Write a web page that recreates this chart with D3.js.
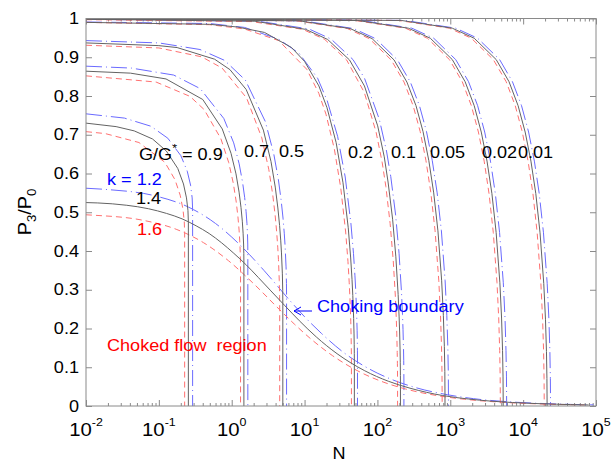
<!DOCTYPE html>
<html><head><meta charset="utf-8">
<script src="https://cdn.jsdelivr.net/npm/d3@7"></script>
<style>
body{margin:0;background:#fff}
svg{display:block}
text{font-family:"Liberation Sans",Arial,Helvetica,sans-serif}
</style>
</head><body>
<svg id="c" width="615" height="463"></svg>
<script>
// ---------------- data ----------------
const xTickValues = [1e-2, 1e-1, 1e0, 1e1, 1e2, 1e3, 1e4, 1e5];
const xTickExponents = ["-2", "-1", "0", "1", "2", "3", "4", "5"];
const yTickValues = [0, 0.1, 0.2, 0.3, 0.4, 0.5, 0.6, 0.7, 0.8, 0.9, 1];
const yTickLabels = ["0", "0.1", "0.2", "0.3", "0.4", "0.5", "0.6", "0.7", "0.8", "0.9", "1"];
const kValues = ["1.2", "1.4", "1.6"];
const gValues = ["0.9", "0.7", "0.5", "0.2", "0.1", "0.05", "0.02", "0.01"];

// k = 1.2 (blue)
const k12_g09 = [[0.01,0.754],[0.0337,0.743],[0.0778,0.722],[0.1328,0.691],[0.2005,0.646],[0.2452,0.606],[0.2724,0.570],[0.2865,0.537],[0.2907,0.508],[0.2907,0]];
const k12_g07 = [[0.01,0.877],[0.0422,0.872],[0.160,0.854],[0.370,0.819],[0.779,0.742],[1.0645,0.679],[1.2657,0.625],[1.4074,0.578],[1.5065,0.538],[1.5742,0.502],[1.6189,0.471],[1.6461,0.443],[1.6602,0.418],[1.6644,0.395],[1.6644,0]];
const k12_g05 = [[0.01,0.943],[0.1,0.937],[0.367,0.920],[0.797,0.892],[1.540,0.841],[2.893,0.734],[3.774,0.651],[4.367,0.585],[4.775,0.530],[5.061,0.485],[5.262,0.446],[5.404,0.413],[5.571,0.359],[5.642,0.316],[5.661,0.282],[5.661,0]];
const k12_g02 = [[0.01,0.991],[0.5,0.987],[1.5,0.977],[4.48,0.946],[8.43,0.910],[15.09,0.846],[20.44,0.788],[28.41,0.696],[36.12,0.591],[43.21,0.472],[46.95,0.393],[49.13,0.336],[50.48,0.294],[51.96,0.234],[52.65,0.194],[52.99,0.165],[53.16,0.144],[53.25,0.113],[53.25,0]];
const k12_g01 = [[0.01,0.998],[2.31,0.993],[11.5,0.973],[23.1,0.947],[46.2,0.894],[66.45,0.846],[106.1,0.740],[133.2,0.658],[152.5,0.592],[177.7,0.493],[198.1,0.394],[213.8,0.295],[220.9,0.236],[224.6,0.197],[228.1,0.147],[229.6,0.117],[230.6,0.083],[230.9,0.056],[230.9,0]];
const k12_g005 = [[0.01,0.999],[9.44,0.994],[47.2,0.974],[94.4,0.948],[188.7,0.893],[283.1,0.836],[377.5,0.775],[471.9,0.708],[566.2,0.633],[660.6,0.550],[755.0,0.452],[849.3,0.323],[896.5,0.233],[924.8,0.154],[939.0,0.089],[943.7,0.028],[943.7,0]];
const k12_g002 = [[0.01,1.0],[59.3,0.995],[297,0.975],[593,0.949],[1187,0.894],[1780,0.837],[2374,0.775],[2967,0.707],[3560,0.632],[4154,0.548],[4747,0.448],[5341,0.318],[5637,0.227],[5815,0.143],[5904,0.075],[5934,0.011],[5934,0]];
const k12_g001 = [[0.01,1.0],[238,0.995],[1188,0.975],[2376,0.949],[4752,0.894],[7129,0.837],[9505,0.775],[11881,0.707],[14257,0.632],[16633,0.548],[19010,0.447],[21386,0.316],[22574,0.224],[23287,0.141],[23643,0.071],[23762,0.006],[23762,0]];
const k12_boundary = [[0.01,0.562],[0.0183,0.559],[0.0902,0.542],[0.2570,0.513],[0.5999,0.471],[1.294,0.416],[2.768,0.350],[6.298,0.272],[10.04,0.230],[17.13,0.187],[32.81,0.141],[78.37,0.095],[164.4,0.067],[327.1,0.048],[918.8,0.029],[2075,0.019],[8324,0.0095],[16997,0.0067],[33323,0.0048],[52072,0.0038],[92582,0.0029]];

// k = 1.4 (black)
const k14_g09 = [[0.01,0.730],[0.0259,0.721],[0.0459,0.710],[0.082,0.689],[0.1268,0.658],[0.1818,0.613],[0.2177,0.573],[0.2395,0.537],[0.2508,0.505],[0.2541,0.475],[0.2541,0]];
const k14_g07 = [[0.01,0.864],[0.0407,0.859],[0.1255,0.844],[0.4005,0.791],[0.7416,0.715],[0.9788,0.652],[1.145,0.599],[1.2615,0.552],[1.3423,0.512],[1.3973,0.477],[1.4333,0.446],[1.4551,0.418],[1.4663,0.393],[1.4696,0.370],[1.4696,0]];
const k14_g05 = [[0.01,0.937],[0.1,0.930],[0.178,0.925],[0.582,0.895],[0.946,0.868],[1.577,0.817],[2.72,0.712],[3.46,0.631],[3.96,0.565],[4.30,0.511],[4.54,0.466],[4.704,0.428],[4.82,0.395],[4.957,0.341],[5.014,0.298],[5.029,0.264],[5.029,0]];
const k14_g02 = [[0.01,0.990],[0.5,0.985],[1.2,0.978],[2.82,0.964],[6.64,0.925],[10.02,0.889],[15.72,0.826],[20.30,0.770],[27.11,0.680],[33.70,0.576],[39.75,0.460],[42.93,0.382],[44.78,0.327],[45.92,0.285],[47.16,0.226],[47.74,0.186],[48.02,0.158],[48.16,0.136],[48.23,0.106],[48.23,0]];
const k14_g01 = [[0.01,0.998],[2.07,0.993],[10.35,0.972],[20.7,0.946],[41.4,0.893],[66.3,0.826],[100.8,0.723],[124.1,0.643],[140.0,0.578],[161.6,0.482],[179.0,0.385],[192.4,0.288],[198.5,0.230],[201.7,0.191],[204.7,0.142],[205.9,0.113],[206.8,0.079],[207.0,0.053],[207.0,0]];
const k14_g005 = [[0.01,0.999],[8.46,0.994],[42.3,0.974],[84.6,0.948],[169.2,0.893],[253.8,0.836],[338.4,0.775],[423,0.708],[507.6,0.633],[592.2,0.550],[676.8,0.452],[761.4,0.323],[803.7,0.233],[829.1,0.154],[841.8,0.089],[846,0.026],[846,0]];
const k14_g002 = [[0.01,1.0],[53.2,0.995],[266,0.975],[532,0.949],[1065,0.894],[1597,0.837],[2130,0.775],[2662,0.707],[3194,0.632],[3727,0.548],[4259,0.448],[4792,0.318],[5058,0.227],[5218,0.143],[5297,0.075],[5324,0.011],[5324,0]];
const k14_g001 = [[0.01,1.0],[213,0.995],[1066,0.975],[2132,0.949],[4264,0.894],[6396,0.837],[8528,0.775],[10660,0.707],[12791,0.632],[14923,0.548],[17055,0.447],[19187,0.316],[20253,0.224],[20893,0.141],[21212,0.071],[21319,0.005],[21319,0]];
const k14_boundary = [[0.01,0.525],[0.0145,0.524],[0.0363,0.518],[0.0723,0.509],[0.1273,0.497],[0.2081,0.483],[0.3246,0.465],[0.4908,0.445],[0.728,0.421],[1.069,0.394],[1.566,0.365],[2.309,0.332],[3.453,0.297],[5.299,0.260],[8.483,0.220],[14.53,0.178],[27.93,0.135],[66.92,0.091],[140.7,0.064],[280.0,0.046],[787.1,0.027],[1778,0.018],[7134,0.009],[14568,0.0064],[28562,0.0046],[44633,0.0037],[79355,0.0027]];

// k = 1.6 (red)
const k16_g09 = [[0.01,0.708],[0.0184,0.703],[0.0533,0.680],[0.1208,0.629],[0.1665,0.584],[0.1962,0.544],[0.2141,0.508],[0.2233,0.476],[0.2259,0.447],[0.2259,0]];
const k16_g07 = [[0.01,0.852],[0.0916,0.836],[0.2677,0.799],[0.4185,0.765],[0.7093,0.690],[0.9107,0.628],[1.0511,0.575],[1.1489,0.529],[1.2165,0.489],[1.2622,0.454],[1.2918,0.423],[1.3097,0.395],[1.3189,0.370],[1.3216,0.348],[1.3216,0]];
const k16_g05 = [[0.01,0.931],[0.1,0.924],[0.389,0.901],[0.739,0.872],[1.600,0.795],[2.587,0.692],[3.225,0.611],[3.652,0.546],[3.942,0.493],[4.144,0.448],[4.284,0.410],[4.382,0.378],[4.495,0.324],[4.543,0.282],[4.555,0.248],[4.555,0]];
const k16_g02 = [[0.01,0.990],[0.5,0.984],[1.5,0.973],[4.42,0.943],[10.71,0.869],[15.68,0.807],[19.68,0.753],[25.63,0.663],[31.37,0.563],[36.64,0.449],[39.41,0.373],[41.01,0.318],[41.99,0.277],[43.06,0.219],[43.55,0.179],[43.79,0.151],[43.90,0.130],[43.96,0.099],[43.96,0]];
const k16_g01 = [[0.01,0.997],[1.89,0.992],[9.45,0.972],[18.9,0.946],[37.8,0.893],[66.1,0.809],[95.8,0.707],[116.1,0.629],[130.6,0.566],[149.4,0.471],[164.7,0.376],[176.4,0.282],[181.6,0.224],[184.4,0.186],[187.0,0.138],[188.1,0.109],[188.8,0.076],[189.0,0.050],[189.0,0]];
const k16_g005 = [[0.01,0.999],[7.73,0.994],[38.7,0.974],[77.3,0.948],[154.6,0.893],[231.9,0.836],[309.2,0.775],[386.6,0.708],[463.9,0.633],[541.2,0.550],[618.5,0.452],[695.8,0.323],[734.4,0.233],[757.6,0.154],[769.2,0.089],[773.1,0.025],[773.1,0]];
const k16_g002 = [[0.01,1.0],[48.6,0.995],[243,0.975],[486,0.949],[973,0.894],[1459,0.837],[1945,0.775],[2432,0.707],[2918,0.632],[3404,0.548],[3890,0.448],[4377,0.318],[4620,0.227],[4766,0.143],[4839,0.075],[4863,0.010],[4863,0]];
const k16_g001 = [[0.01,1.0],[195,0.995],[974,0.975],[1947,0.949],[3895,0.894],[5842,0.837],[7790,0.775],[9737,0.707],[11684,0.632],[13632,0.548],[15579,0.447],[17527,0.316],[18500,0.224],[19085,0.141],[19377,0.071],[19474,0.005],[19474,0]];
const k16_boundary = [[0.01,0.4935],[0.0118,0.4927],[0.0594,0.4796],[0.1727,0.4561],[0.4109,0.4214],[0.9030,0.3749],[1.967,0.3169],[4.555,0.2484],[7.320,0.2106],[12.59,0.1709],[24.28,0.1297],[58.34,0.0871],[122.8,0.0612],[244.7,0.0438],[688.3,0.0263],[1556,0.0175],[6242,0.0088],[12747,0.0061],[24991,0.0044],[39053,0.0035],[69434,0.0026]];

// ---------------- drawing ----------------
const svg = d3.select("#c");
const x = d3.scaleLog().domain([1e-2, 1e5]).range([86, 596]);
const y = d3.scaleLinear().domain([0, 1]).range([406, 18.5]);
const X0 = x.range()[0], X1 = x.range()[1], Y0 = y.range()[0], Y1 = y.range()[1];

svg.append("defs").append("clipPath").attr("id", "plot")
  .append("rect").attr("x", X0).attr("y", Y1 - 1).attr("width", X1 - X0).attr("height", Y0 - Y1 + 1);

const axisColor = "#8a8a8a";
const minorX = [];
for (let e = -2; e < 5; e++) for (let m = 2; m <= 9; m++) minorX.push(m * Math.pow(10, e));

function styleAxis(g) {
  g.select(".domain").remove();
  g.selectAll("line").attr("stroke", axisColor).attr("stroke-width", 1);
  g.selectAll("text").remove();
}
svg.append("g").attr("transform", `translate(0,${Y0})`).call(d3.axisBottom(x).tickValues(xTickValues).tickSize(-6)).call(styleAxis);
svg.append("g").attr("transform", `translate(0,${Y0})`).call(d3.axisBottom(x).tickValues(minorX).tickSize(-3)).call(styleAxis);
svg.append("g").attr("transform", `translate(0,${Y1})`).call(d3.axisTop(x).tickValues(xTickValues).tickSize(-6)).call(styleAxis);
svg.append("g").attr("transform", `translate(0,${Y1})`).call(d3.axisTop(x).tickValues(minorX).tickSize(-3)).call(styleAxis);
svg.append("g").attr("transform", `translate(${X0},0)`).call(d3.axisLeft(y).tickValues(yTickValues).tickSize(-6)).call(styleAxis);
svg.append("g").attr("transform", `translate(${X1},0)`).call(d3.axisRight(y).tickValues(yTickValues).tickSize(-6)).call(styleAxis);

// curves
const plot = svg.append("g").attr("clip-path", "url(#plot)");
const line = d3.line().x(d => x(d[0])).y(d => y(d[1]));
const lineSmooth = d3.line().x(d => x(d[0])).y(d => y(d[1])).curve(d3.curveMonotoneX);

const sets = [
  { k: kValues[0], color: "#6a6aff", dash: "16,4,1,4", curves: [k12_g09,k12_g07,k12_g05,k12_g02,k12_g01,k12_g005,k12_g002,k12_g001], boundary: k12_boundary },
  { k: kValues[2], color: "#ff7070", dash: "6,4", curves: [k16_g09,k16_g07,k16_g05,k16_g02,k16_g01,k16_g005,k16_g002,k16_g001], boundary: k16_boundary },
  { k: kValues[1], color: "#636363", dash: null, curves: [k14_g09,k14_g07,k14_g05,k14_g02,k14_g01,k14_g005,k14_g002,k14_g001], boundary: k14_boundary }
];
sets.forEach(s => {
  s.curves.forEach(c => {
    plot.append("path").attr("d", line(c)).attr("fill", "none")
      .attr("stroke", s.color).attr("stroke-width", 1)
      .attr("stroke-dasharray", s.dash);
  });
  plot.append("path").attr("d", lineSmooth(s.boundary)).attr("fill", "none")
    .attr("stroke", s.color).attr("stroke-width", 1)
    .attr("stroke-dasharray", s.dash);
});

// frame
svg.append("rect").attr("x", X0).attr("y", Y1).attr("width", X1 - X0).attr("height", Y0 - Y1)
  .attr("fill", "none").attr("stroke", axisColor).attr("stroke-width", 1);

// text helper (reference text is slightly wider than the font)
const SX = 1.13;
function label(px, py, parts, opts = {}) {
  const g = svg.append("g").attr("transform", `translate(${px},${py}) scale(${opts.sx || SX},1)`);
  const t = g.append("text").attr("x", 0).attr("y", 0)
    .attr("font-size", opts.size || 16)
    .attr("fill", opts.color || "#000")
    .attr("text-anchor", opts.anchor || "start")
    .style("white-space", "pre");
  parts.forEach(p => {
    const ts = t.append("tspan").text(p.t);
    if (p.dy) ts.attr("dy", p.dy);
    if (p.size) ts.attr("font-size", p.size);
  });
  return g;
}

// y tick labels
yTickValues.forEach((v, i) => label(79, y(v) + 5.5, [{ t: yTickLabels[i] }], { anchor: "end" }));
// x tick labels
xTickValues.forEach((v, i) => label(x(v), 436, [{ t: "10" }, { t: xTickExponents[i], dy: -10, size: 11 }], { anchor: "middle", size: 18 }));

// axis titles
label(339, 459, [{ t: "N" }], { anchor: "middle" });
svg.append("g").attr("transform", "translate(31,212) rotate(-90) scale(1.1,1)")
  .append("text").attr("text-anchor", "middle").attr("font-size", 18)
  .call(t => {
    t.append("tspan").text("P");
    t.append("tspan").text("3").attr("font-size", 12).attr("dy", 5);
    t.append("tspan").text("/P").attr("dy", -5);
    t.append("tspan").text("0").attr("font-size", 12).attr("dy", 5);
  });

// G/G* labels
label(139, 160, [{ t: "G/G" }, { t: "*", dy: -8, size: 11 }, { t: " = " + gValues[0], dy: 8 }]);
label(244, 157, [{ t: gValues[1] }]);
label(279, 157, [{ t: gValues[2] }]);
label(348, 158, [{ t: gValues[3] }]);
label(391, 158, [{ t: gValues[4] }]);
label(430, 158, [{ t: gValues[5] }]);
label(482, 158, [{ t: gValues[6] }]);
label(518, 158, [{ t: gValues[7] }]);

// k labels
label(107, 185, [{ t: "k = " + kValues[0] }], { color: "#0000ff" });
label(136, 204, [{ t: kValues[1] }], { color: "#000" });
label(137, 235, [{ t: kValues[2] }], { color: "#ff0000" });

// annotations
label(107, 351, [{ t: "Choked flow  region" }], { color: "#ff0000" });
label(317, 312, [{ t: "Choking boundary" }], { color: "#0000ff" });
svg.append("line").attr("x1", 294).attr("y1", 311).attr("x2", 312).attr("y2", 311)
  .attr("stroke", "#0000ff").attr("stroke-width", 1);
svg.append("path").attr("d", "M301,307 L294,311 L301,315").attr("fill", "none")
  .attr("stroke", "#0000ff").attr("stroke-width", 1);
</script>
</body></html>
